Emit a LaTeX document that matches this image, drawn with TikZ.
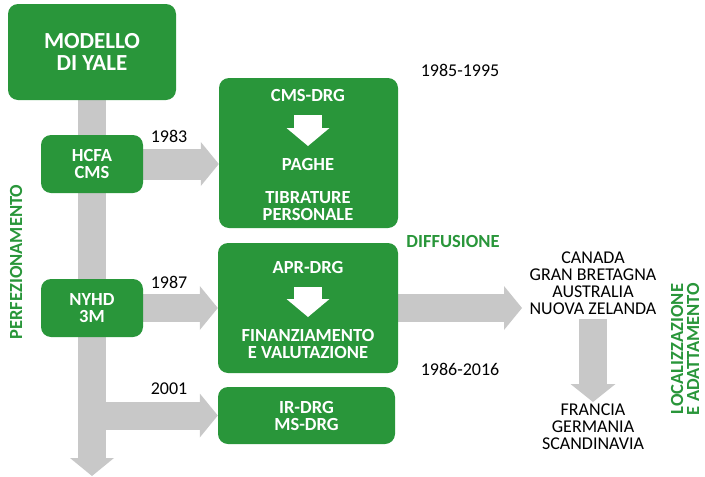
\documentclass[tikz,border=0pt]{standalone}
\usepackage{fontspec}
\setmainfont{Carlito}
\usetikzlibrary{arrows.meta,backgrounds}
\definecolor{grn}{RGB}{41,150,58}
\definecolor{gry}{RGB}{200,200,200}
\begin{document}
\begin{tikzpicture}[x=1pt,y=-1pt,
 box/.style={fill=grn, rounded corners=10pt, text=white, font=\bfseries\fontsize{18.5}{17}\selectfont, align=center, inner sep=0pt},
 wt/.style={text=white, font=\bfseries\fontsize{18.5}{17}\selectfont, align=center, inner sep=0pt},
 lbl/.style={font=\fontsize{18}{17}\selectfont, align=center, inner sep=0pt},
 glbl/.style={text=grn, font=\bfseries\fontsize{18.5}{16}\selectfont, align=center, inner sep=0pt},
 flow/.style={draw=gry, line width=28pt, -{Triangle[length=18pt,width=44pt,line width=0pt]}},
 wflow/.style={draw=white, line width=28pt, -{Triangle[length=18pt,width=43pt,line width=0pt]}},
]
\useasboundingbox (0,0) rectangle (705,477);
% boxes
\node[box, minimum width=168pt, minimum height=96pt, font=\bfseries\fontsize{23}{22}\selectfont] (yale) at (92,52) {MODELLO\\DI YALE};
\node[box, minimum width=102pt, minimum height=58pt] (hcfa) at (92,164) {HCFA\\CMS};
\node[box, minimum width=102pt, minimum height=58pt] (nyhd) at (92,308) {NYHD\\3M};
\node[box, minimum width=179pt, minimum height=150pt] (cms) at (308.5,153) {};
\node[box, minimum width=180pt, minimum height=130pt] (apr) at (308,308) {};
\node[box, minimum width=177pt, minimum height=57pt] (ir) at (306.5,415.5) {IR-DRG\\MS-DRG};
% texts inside boxes
\node[wt] (cmst) at (308,95) {CMS-DRG};
\node[wt] (paghe) at (308,164) {PAGHE};
\node[wt] (tib) at (308,206) {TIBRATURE\\PERSONALE};
\node[wt] (aprt) at (308,267.5) {APR-DRG};
\node[wt] (fin) at (308,344) {FINANZIAMENTO\\E VALUTAZIONE};
% labels
\node[lbl] (y83) at (169,136) {1983};
\node[lbl] (y87) at (169,282.5) {1987};
\node[lbl] (y01) at (169,389) {2001};
\node[lbl] (y85) at (460,70) {1985-1995};
\node[lbl] (y86) at (460,369) {1986-2016};
\node[glbl] (diff) at (453,241.5) {DIFFUSIONE};
\node[glbl, rotate=90] (perf) at (16,262) {PERFEZIONAMENTO};
\node[glbl, rotate=90] (loc) at (685,349) {LOCALIZZAZIONE\\E ADATTAMENTO};
\node[lbl] (countries) at (593,283) {CANADA\\GRAN BRETAGNA\\AUSTRALIA\\NUOVA ZELANDA};
\node[lbl] (europe) at (593,427) {FRANCIA\\GERMANIA\\SCANDINAVIA};
% coordinates
\coordinate (bottom) at (92,476);
\coordinate (branch) at (yale.south |- ir.west);
\coordinate (diffend) at (522,308);
\coordinate (downstart) at (593,319);
\coordinate (downend) at (593,402);
% gray flow arrows
\begin{pgfonlayer}{background}
\draw[flow] (yale.south) -- (bottom);
\draw[flow, line width=31pt] (hcfa.east) -- (cms.west |- hcfa.east);
\draw[flow] (nyhd.east) -- (apr.west);
\draw[flow] (branch) -- (ir.west);
\draw[flow] (apr.east) -- (diffend);
\draw[flow, -{Triangle[length=18pt,width=45pt,line width=0pt]}] (downstart) -- (downend);
\end{pgfonlayer}
% white arrows inside boxes
\draw[wflow] (cmst.south |- 0,115) -- (cmst.south |- 0,146);
\draw[wflow] (aprt.south |- 0,287) -- (aprt.south |- 0,317);
\end{tikzpicture}
\end{document}
